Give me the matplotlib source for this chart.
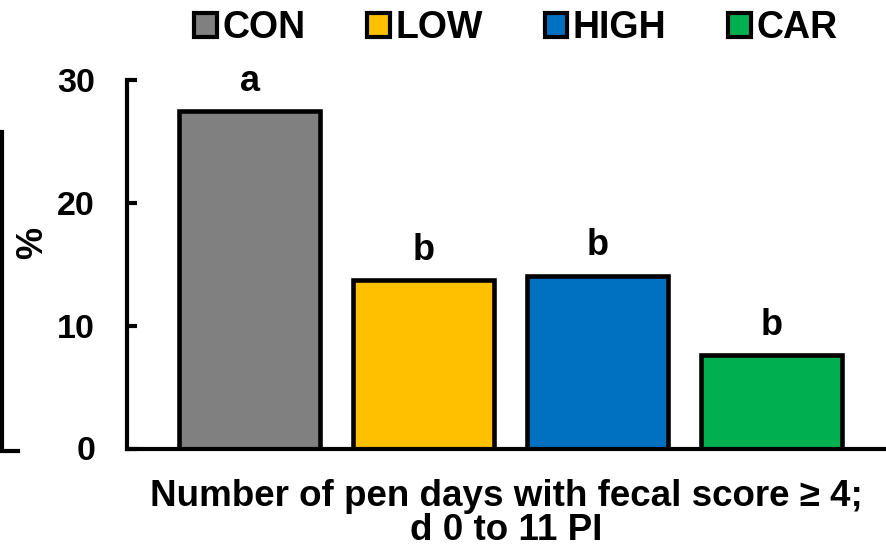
import matplotlib
matplotlib.use("Agg")
import matplotlib.pyplot as plt
from matplotlib.patches import Patch
from matplotlib.lines import Line2D

plt.rcParams["font.family"] = ["Liberation Sans", "DejaVu Sans"]
plt.rcParams["font.weight"] = "bold"

# Data
groups = ["CON", "LOW", "HIGH", "CAR"]
values = [27.5, 13.7, 14.1, 7.6]
letters = ["a", "b", "b", "b"]
colors = ["#808080", "#FFC000", "#0070C0", "#00B050"]
yticks = [0, 10, 20, 30]
xlabel = "Number of pen days with fecal score \u2265 4;\nd 0 to 11 PI"

W, H, DPI = 886, 551, 100
fig = plt.figure(figsize=(W / DPI, H / DPI), dpi=DPI)
ax = fig.add_axes([127 / W, (H - 448.5) / H, 1 - 127 / W, 368 / H])

x = list(range(len(groups)))
bars = ax.bar(x, values, width=0.81, color=colors, edgecolor="black",
              linewidth=3.3, zorder=2)

for xi, v, lab in zip(x, values, letters):
    ax.annotate(lab, (xi, v), xytext=(0, 9), textcoords="offset points",
                ha="center", va="bottom", fontsize=26, fontweight="bold")

ax.set_xlim(-0.705, 3.66)
ax.set_ylim(0, 30)
ax.set_yticks(yticks)
ax.set_xticks([])
for s in ("top", "right"):
    ax.spines[s].set_visible(False)
for s in ("left", "bottom"):
    ax.spines[s].set_linewidth(3.0)
ax.tick_params(axis="y", direction="in", length=7, width=3.0, pad=23,
               labelsize=24.5)
for t in ax.get_yticklabels():
    t.set_fontweight("bold")

ax.set_xlabel(xlabel, fontsize=26.5, fontweight="bold", linespacing=0.95,
              labelpad=22)

fig.text(33 / W, 1 - 243 / H, "%", rotation=90, ha="center", va="center",
         fontsize=26, fontweight="bold")

# bracket on the far left edge
fig.add_artist(Line2D([1.5 / W, 1.5 / W, 18 / W],
                      [1 - 132 / H, 1 - 451 / H, 1 - 451 / H],
                      color="black", linewidth=3.0,
                      transform=fig.transFigure, solid_joinstyle="miter"))

handles = [Patch(facecolor=c, edgecolor="black", linewidth=3.0) for c in colors]
fig.legend(handles, groups, loc="center", bbox_to_anchor=(516 / W, 1 - 28 / H),
           ncol=4, frameon=False, handlelength=0.6,
           handleheight=0.62, handletextpad=0.15, columnspacing=1.65,
           borderpad=0, prop={"weight": "bold", "size": 27})

fig.savefig("out.png", dpi=DPI)
